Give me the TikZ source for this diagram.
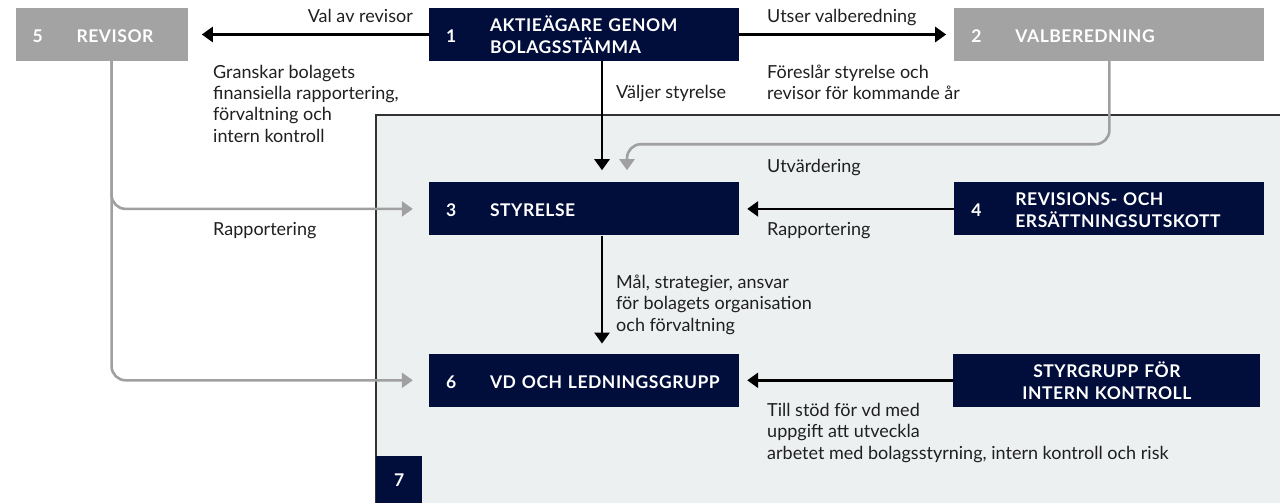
\documentclass[tikz,border=0pt]{standalone}
\usepackage{fontspec}
\setmainfont{Lato}
\newfontfamily\boxfont{Lato}[LetterSpace=3]
\usetikzlibrary{arrows.meta}
\usetikzlibrary{positioning}
\usetikzlibrary{calc}

\definecolor{navy}{HTML}{010D3B}
\definecolor{boxgrey}{HTML}{A3A3A3}
\definecolor{linegrey}{HTML}{A0A0A0}
\definecolor{panelbg}{HTML}{EDF0F1}

\newcommand{\boxtext}[2]{%
  \raisebox{-3.5pt}[\height][\depth]{\makebox[61pt][l]{\hspace{17pt}#1}%
  \begin{tabular}{@{}l@{}}#2\end{tabular}}}
\newcommand{\lines}[1]{\begin{tabular}[t]{@{}l@{}}#1\end{tabular}}

\begin{document}
\begin{tikzpicture}[
    x=1pt, y=-1pt,
    box/.style={
        fill=navy, text=white,
        font={\boxfont\bfseries\fontsize{17.5}{22}\selectfont},
        minimum width=310pt, text width=310pt,
        minimum height=53pt, inner sep=0pt,
        align=left
    },
    greybox/.style={box, fill=boxgrey, minimum width=172pt, text width=172pt},
    lbl/.style={font={\fontsize{18}{21.5}\selectfont}, text=black!88, inner sep=0pt},
    arr/.style={line width=2.6pt, -{Triangle[width=15pt,length=11pt]}},
    greyarr/.style={arr, draw=linegrey, rounded corners=14pt}
]
\useasboundingbox (0,0) rectangle (1280,503);

% group 7
\node[fill=panelbg, minimum width=904pt, minimum height=388pt, inner sep=0pt, anchor=north west] (group) at (376,115) {};
\draw[line width=1.2pt, draw=black!80] (group.south west) -- (group.north west) -- (group.north east);
\node[box, minimum width=46pt, text width=46pt, minimum height=47pt, align=center, anchor=south west] (groupnum) at (group.south west) {7};

% boxes
\node[box] (owners) at (584,34.5) {\boxtext{1}{AKTIEÄGARE GENOM\\BOLAGSSTÄMMA}};
\node[greybox, left=241pt of owners] (auditor) {\boxtext{5}{REVISOR}};
\node[greybox, minimum width=310pt, text width=310pt, right=215pt of owners] (nomination) {\boxtext{2}{VALBEREDNING}};
\node[box, below=121pt of owners] (board) {\boxtext{3}{STYRELSE}};
\node[box, right=215pt of board] (audit) {\boxtext{4}{REVISIONS- OCH\\ERSÄTTNINGSUTSKOTT}};
\node[box, below=118pt of board] (ceo) {\boxtext{6}{VD OCH LEDNINGSGRUPP}};
\node[box, minimum width=307pt, text width=307pt, align=center, right=214pt of ceo] (control) {STYRGRUPP FÖR\\INTERN KONTROLL};

% connectors
\draw[arr] (owners.west) -- ([xshift=14pt]auditor.east);
\draw[arr] (owners.east) -- ([xshift=-8pt]nomination.west);
\draw[arr] ([xshift=18pt]owners.south) -- ([xshift=18pt,yshift=12pt]board.north);
\draw[greyarr] (nomination.south) |- ([xshift=43pt,yshift=38pt]board.north) -- ([xshift=43pt,yshift=12pt]board.north);
\draw[arr] (audit.west) -- ([xshift=8pt]board.east);
\draw[greyarr] ([xshift=10pt]auditor.south) |- ([xshift=-16pt]board.west);
\draw[greyarr] ([xshift=10pt]auditor.south) |- ([xshift=-16pt]ceo.west);
\draw[arr] ([xshift=18pt]board.south) -- ([xshift=18pt,yshift=10pt]ceo.north);
\draw[arr] (control.west) -- ([xshift=8pt]ceo.east);

% labels
\node[lbl, anchor=base east] (valrev) at (413,23) {Val av revisor};
\node[lbl, anchor=base west] (utser) at (767,23) {Utser valberedning};
\node[lbl, anchor=base west] (granskar) at (213,78) {\lines{Granskar bolagets\\finansiella rapportering,\\förvaltning och\\intern kontroll}};
\node[lbl, anchor=base west] (valjer) at (616,99) {Väljer styrelse};
\node[lbl, anchor=base west] (foreslar) at (767,78) {\lines{Föreslår styrelse och\\revisor för kommande år}};
\node[lbl, anchor=base west] (utvard) at (767,172) {Utvärdering};
\node[lbl, anchor=base west] (rapp1) at (213,235) {Rapportering};
\node[lbl, anchor=base west] (rapp2) at (767,235) {Rapportering};
\node[lbl, anchor=base west] (mal) at (616,288) {\lines{Mål, strategier, ansvar\\för bolagets organisation\\och förvaltning}};
\node[lbl, anchor=base west] (stod) at (767,416) {\lines{Till stöd för vd med\\uppgift att utveckla\\arbetet med bolagsstyrning, intern kontroll och risk}};
\end{tikzpicture}
\end{document}
